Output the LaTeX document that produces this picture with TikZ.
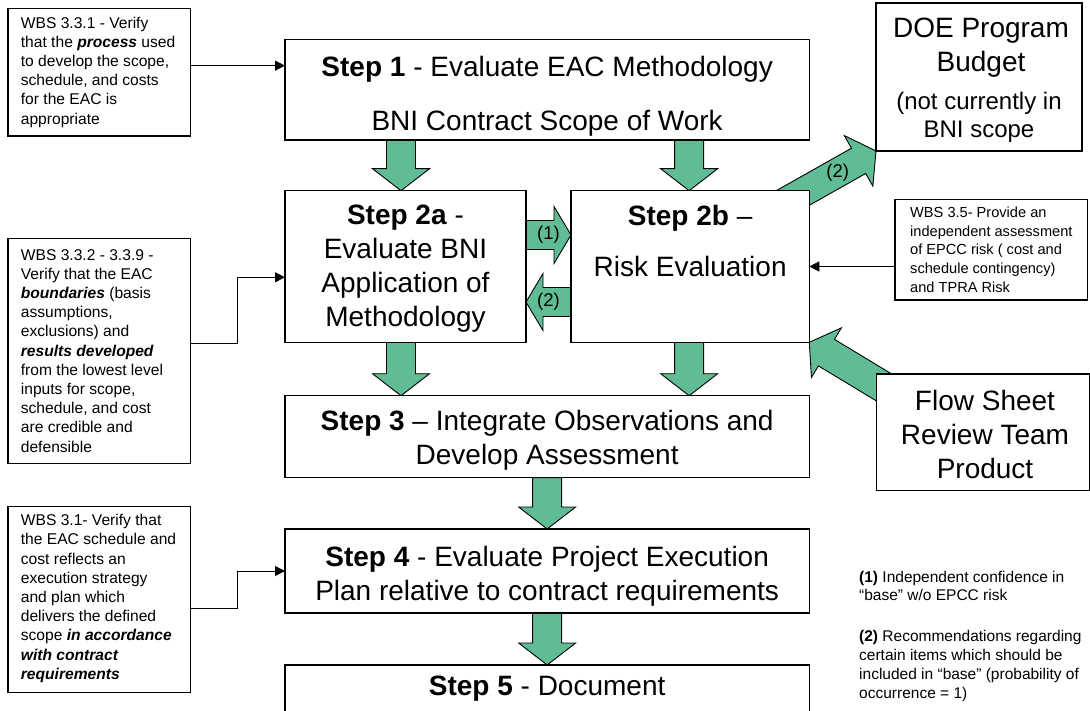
\documentclass[tikz,border=0pt]{standalone}
\usepackage{fontspec}
\setmainfont{Liberation Sans}
\usetikzlibrary{calc,arrows.meta}
\pgfdeclarelayer{bg}
\pgfsetlayers{bg,main}
\definecolor{arrowgreen}{RGB}{96,188,148}
% #1 tail, #2 tip, #3 half shaft width, #4 half head width, #5 head length
\newcommand\blockarrow[5]{%
  \coordinate (ba-h) at ($(#2)!#5!(#1)$);
  \filldraw[greenarrow] ($(#1)!#3!90:(#2)$) -- ($(ba-h)!#3!90:(#2)$) -- ($(ba-h)!#4!90:(#2)$) -- (#2)
    -- ($(ba-h)!#4!-90:(#2)$) -- ($(ba-h)!#3!-90:(#2)$) -- ($(#1)!#3!-90:(#2)$) -- cycle;
}
\begin{document}
\begin{tikzpicture}[x=1pt,y=-1pt,
  box/.style={draw=black, line width=1.2pt, fill=white, inner sep=0pt, outer sep=0pt},
  bigtext/.style={font=\fontsize{28}{34}\selectfont, align=center, inner sep=0pt},
  smalltext/.style={font=\fontsize{24}{27.5}\selectfont, align=center, inner sep=0pt},
  wbstext/.style={font=\fontsize{15.6}{19.2}\selectfont, align=left, inner sep=0pt, anchor=west},
  wbsright/.style={font=\fontsize{14.6}{18.75}\selectfont, align=left, inner sep=0pt, anchor=west},
  notetext/.style={font=\fontsize{15.5}{18.7}\selectfont, align=left, inner sep=0pt, anchor=west},
  lbl/.style={font=\fontsize{18.5}{22}\selectfont, inner sep=0pt},
  greenarrow/.style={fill=arrowgreen, draw=black, line width=0.9pt, line join=miter},
  thinarrow/.style={draw=black, line width=1pt, -{Triangle[length=10pt,width=10pt]}},
]
\begin{pgfonlayer}{bg}
  \fill[white] (0,0) rectangle (1090,711);
\end{pgfonlayer}
\useasboundingbox (0,0) rectangle (1090,711);

% ---- boxes
\node[box, minimum width=524.3pt, minimum height=100.5pt] (s1) at (547.15,89.75) {};
\node[box, minimum width=241pt, minimum height=151.6pt] (s2a) at (405.5,266.5) {};
\node[box, minimum width=238.3pt, minimum height=151.6pt] (s2b) at (690.15,266.5) {};
\node[box, minimum width=524.3pt, minimum height=82pt] (s3) at (547.15,436.7) {};
\node[box, minimum width=524.3pt, minimum height=84pt] (s4) at (547.15,571) {};
\node[box, minimum width=524.3pt, minimum height=47pt] (s5) at (547.15,688.5) {};
\node[box, minimum width=206pt, minimum height=148pt] (doe) at (979,77) {};
\node[box, minimum width=212.8pt, minimum height=116.7pt] (flow) at (983.1,432.35) {};
\node[box, minimum width=182.7pt, minimum height=127.7pt] (w1) at (99.35,72.15) {};
\node[box, minimum width=182.7pt, minimum height=225pt] (w2) at (99.35,350.8) {};
\node[box, minimum width=182.7pt, minimum height=185.6pt] (w3) at (99.35,599.5) {};
\node[box, minimum width=192.7pt, minimum height=100.7pt] (w35) at (991.35,249.65) {};

% ---- texts
\node[bigtext] (s1t) at (547.15,96) {\textbf{Step 1} - Evaluate EAC Methodology\\[20pt]BNI Contract Scope of Work};
\node[bigtext] (s2at) at (405.5,269) {\textbf{Step 2a} -\\Evaluate BNI\\Application of\\Methodology};
\node[bigtext] (s2bt) at (690.15,241) {\textbf{Step 2b} –\\[17pt]Risk Evaluation};
\node[bigtext] (s3t) at (547.15,440) {\textbf{Step 3} – Integrate Observations and\\Develop Assessment};
\node[bigtext] (s4t) at (547.15,576) {\textbf{Step 4} - Evaluate Project Execution\\Plan relative to contract requirements};
\node[bigtext] (s5t) at (547.15,689) {\textbf{Step 5} - Document};
\node[bigtext] (doet1) at (981,48) {DOE Program\\Budget};
\node[smalltext] (doet2) at (979,117.5) {(not currently in\\BNI scope};
\node[bigtext] (flowt) at (985,434) {Flow Sheet\\Review Team\\Product};

\node[wbstext] (w1t) at ([xshift=12.7pt]w1.west) {WBS 3.3.1 - Verify\\that the \textbf{\textit{process}} used\\to develop the scope,\\schedule, and costs\\for the EAC is\\appropriate};
\node[wbstext] (w2t) at ([xshift=12.7pt]w2.west) {WBS 3.3.2 - 3.3.9 -\\Verify that the EAC\\\textbf{\textit{boundaries}} (basis\\assumptions,\\exclusions) and\\\textbf{\textit{results developed}}\\from the lowest level\\inputs for scope,\\schedule, and cost\\are credible and\\defensible};
\node[wbstext] (w3t) at ([xshift=12.7pt,yshift=1pt]w3.west) {WBS 3.1- Verify that\\the EAC schedule and\\cost reflects an\\execution strategy\\and plan which\\delivers the defined\\scope \textbf{\textit{in accordance}}\\\textbf{\textit{with contract}}\\\textbf{\textit{requirements}}};
\node[wbsright] (w35t) at ([xshift=15pt]w35.west) {WBS 3.5- Provide an\\independent assessment\\of EPCC risk ( cost and\\schedule contingency)\\and TPRA Risk};

\node[notetext] (n1) at (859,586) {\textbf{(1)} Independent confidence in\\“base” w/o EPCC risk};
\node[notetext] (n2) at (859,666) {\textbf{(2)} Recommendations regarding\\certain items which should be\\included in “base” (probability of\\occurrence = 1)};

% ---- block arrow end points
\coordinate (a1b) at ([xshift=-4.5pt]s2a.north);
\coordinate (a1t) at (a1b |- s1.south);
\coordinate (a2b) at ([xshift=-1pt]s2b.north);
\coordinate (a2t) at (a2b |- s1.south);
\coordinate (a3t) at ([xshift=-4.5pt]s2a.south);
\coordinate (a3b) at (a3t |- s3.north);
\coordinate (a4t) at ([xshift=-1pt]s2b.south);
\coordinate (a4b) at (a4t |- s3.north);
\coordinate (h1a) at ([yshift=31.5pt]s2a.east);
\coordinate (h1b) at (h1a -| s2b.west);
\coordinate (h2a) at ([yshift=-35.5pt]s2b.west);
\coordinate (h2b) at (h2a -| s2a.east);
\coordinate (d1b) at (doe.south west);
\coordinate (d1a) at ($(d1b)+(-95.8,54.1)$);
\coordinate (f1b) at (s2b.south east);
\coordinate (f1a) at ($(f1b)+(94.2,56.9)$);

\begin{pgfonlayer}{bg}
  \blockarrow{a1t}{a1b}{14.5pt}{28.5pt}{22pt}
  \blockarrow{a2t}{a2b}{14.5pt}{28.5pt}{22pt}
  \blockarrow{a3t}{a3b}{14.5pt}{28.5pt}{22pt}
  \blockarrow{a4t}{a4b}{14.5pt}{28.5pt}{22pt}
  \blockarrow{s3.south}{s4.north}{14.5pt}{28.5pt}{22pt}
  \blockarrow{s4.south}{s5.north}{14.5pt}{28.5pt}{22pt}
  \blockarrow{h1a}{h1b}{14.5pt}{28.5pt}{17pt}
  \blockarrow{h2a}{h2b}{14.5pt}{28.5pt}{17pt}
  \blockarrow{d1a}{d1b}{14.5pt}{29pt}{20pt}
  \blockarrow{f1a}{f1b}{15.5pt}{29pt}{20pt}
\end{pgfonlayer}

\node[lbl] (l1) at ($(h1a)!0.5!(h1b)$) {(1)};
\node[lbl] (l2) at ($(h2a)!0.5!(h2b)$) {(2)};
\node[lbl] (l3) at ($(d1a)!0.6!(d1b)$) {(2)};

% ---- thin connectors
\coordinate (w1o) at ([yshift=6.5pt]w1.east);
\draw[thinarrow] (w1o) -- (w1o -| s1.west);
\coordinate (w2o) at ([yshift=7.5pt]w2.east);
\coordinate (w2i) at ([yshift=-10.8pt]s2a.west);
\coordinate (w2m) at ($(w2o)!0.5!(w2i)$);
\draw[thinarrow] (w2o) -| (w2m) |- (w2i);
\coordinate (w3o) at ([yshift=-8.8pt]w3.east);
\coordinate (w3m) at ($(w3o)!0.5!(s4.west)$);
\draw[thinarrow] (w3o) -| (w3m) |- (s4.west);
\draw[thinarrow] (s2b.east -| w35.west) -- (s2b.east);
\end{tikzpicture}
\end{document}
